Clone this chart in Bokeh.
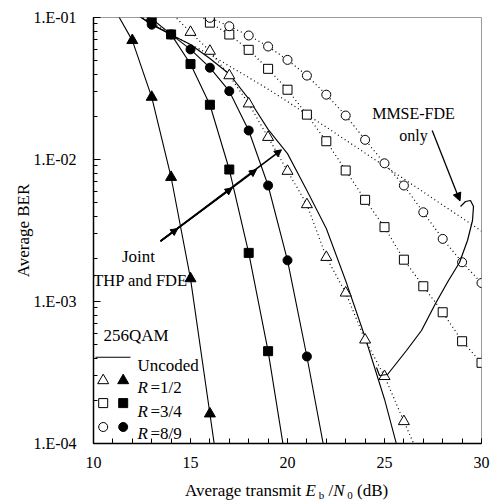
import math
from bokeh.plotting import figure
from bokeh.layouts import column
from bokeh.models import FixedTicker, Label, Arrow, NormalHead, Div
from bokeh.embed import file_html
from bokeh.resources import INLINE

# ---------------- data (Eb/N0 in dB, average BER) ----------------
# Joint THP and FDE (solid lines, filled markers)
snr_jt_r12 = [11, 12, 13, 14, 15, 16, 17]
ber_jt_r12 = [0.12, 0.069, 0.0275, 0.0075, 0.00145, 0.000162, 0.000018]
snr_jt_r34 = [12, 13, 14, 15, 16, 17, 18, 19, 20]
ber_jt_r34 = [0.115, 0.098, 0.076, 0.047, 0.0243, 0.0085, 0.0022, 0.000447, 0.000063]
snr_jt_r89 = [12, 13, 14, 15, 16, 17, 18, 19, 20, 21, 22]
ber_jt_r89 = [0.11, 0.089, 0.076, 0.0596, 0.0443, 0.0303, 0.016, 0.00656, 0.00195, 0.00041, 0.000076]
snr_jt_unc = [12, 13, 14, 15, 16, 17, 18, 19, 20, 21, 22, 23, 24, 25, 26]
ber_jt_unc = [0.11, 0.09, 0.0755, 0.0645, 0.0514, 0.040, 0.0267, 0.0163, 0.011, 0.00605,
              0.00327, 0.0014, 0.00056, 0.000205, 0.000063]

# MMSE-FDE only (dotted lines, open markers)
snr_mm_r12 = [14, 15, 16, 17, 18, 19, 20, 21, 22, 23, 24, 25, 26, 27]
ber_mm_r12 = [0.108, 0.0788, 0.058, 0.039, 0.0247, 0.01435, 0.00828, 0.00482, 0.00205,
              0.00115, 0.000537, 0.000297, 0.000143, 0.00007]
snr_mm_r34 = [15, 16, 17, 18, 19, 20, 21, 22, 23, 24, 25, 26, 27, 28, 29, 30]
ber_mm_r34 = [0.115, 0.092, 0.0759, 0.0592, 0.0435, 0.031, 0.0207, 0.01345, 0.00837, 0.0052,
              0.00334, 0.00197, 0.00128, 0.00084, 0.000525, 0.00037]
snr_mm_r89 = [15, 16, 17, 18, 19, 20, 21, 22, 23, 24, 25, 26, 27, 28, 29, 30]
ber_mm_r89 = [0.118, 0.0995, 0.0868, 0.0747, 0.0625, 0.0503, 0.039, 0.0286, 0.0204, 0.01376,
              0.0094, 0.00656, 0.00425, 0.00276, 0.00189, 0.00135]
snr_mm_unc = [12, 13, 14, 15, 16, 17, 18, 19, 20, 21, 22, 23, 24, 25, 26, 27, 28, 29, 30]
ber_mm_unc = [0.11, 0.092, 0.0759, 0.0645, 0.055, 0.0455, 0.0378, 0.0313, 0.0256, 0.0207,
              0.0169, 0.0137, 0.0111, 0.009, 0.0073, 0.0059, 0.00478, 0.00387, 0.00313]

x_ticks = [10, 15, 20, 25, 30]
y_ticks = [1e-4, 1e-3, 1e-2, 1e-1]
y_tick_labels = ["1.E-04", "1.E-03", "1.E-02", "1.E-01"]

# ---------------- figure ----------------
W, H = 499, 482
FL, FR, FT, FB = 93, 18, 17, 39   # frame borders in canvas px
p = figure(width=W, height=H, output_backend="svg", toolbar_location=None,
           x_range=(10, 30), y_range=(1e-4, 1e-1), y_axis_type="log",
           min_border_left=FL, min_border_right=FR, min_border_top=FT, min_border_bottom=FB)
p.background_fill_color = "white"
p.border_fill_color = "white"
p.outline_line_color = "#9a9a9a"
p.outline_line_width = 1
p.grid.visible = False

FONT = "Liberation Serif"

# coordinate helpers: canvas pixel -> data (for annotation placement only)
fw, fh = W - FL - FR, H - FT - FB
def X(px):
    return 10 + (px - FL) / fw * 20.0
def Y(py):
    return 10 ** (-1 - (py - FT) / fh * 3.0)

# axes
p.xaxis.ticker = FixedTicker(ticks=x_ticks, minor_ticks=list(range(10, 31)))
p.yaxis.ticker = FixedTicker(ticks=y_ticks,
                             minor_ticks=[m * 10 ** e for e in (-4, -3, -2) for m in range(1, 11)])
p.yaxis.major_label_overrides = {t: l for t, l in zip(y_ticks, y_tick_labels)}
for ax in (p.xaxis, p.yaxis):
    ax.axis_line_color = "black"
    ax.axis_line_width = 1.5
    ax.major_tick_out = 0
    ax.minor_tick_out = 0
    ax.major_tick_line_color = "black"
    ax.minor_tick_line_color = "black"
    ax.major_label_text_font = FONT
    ax.major_label_text_font_size = "16px"
    ax.major_label_text_color = "black"
p.yaxis.major_tick_in = 7
p.yaxis.minor_tick_in = 4
p.xaxis.major_tick_in = 5
p.xaxis.minor_tick_in = 5
p.yaxis.major_label_standoff = 17
p.xaxis.major_label_standoff = 13
p.yaxis.axis_label = "Average BER"
p.yaxis.axis_label_text_font = FONT
p.yaxis.axis_label_text_font_size = "17px"
p.yaxis.axis_label_text_font_style = "normal"
p.yaxis.axis_label_text_color = "black"
p.yaxis.axis_label_standoff = -3

# ---------------- series ----------------
def solid(x, y):
    p.line(x, y, line_color="black", line_width=1.1)

def dotted(x, y):
    p.line(x, y, line_color="black", line_width=1.2, line_dash="1 3")

solid(snr_jt_r12, ber_jt_r12)
solid(snr_jt_r34, ber_jt_r34)
solid(snr_jt_r89, ber_jt_r89)
solid(snr_jt_unc, ber_jt_unc)
dotted(snr_mm_r12, ber_mm_r12)
dotted(snr_mm_r34, ber_mm_r34)
dotted(snr_mm_r89, ber_mm_r89)
dotted(snr_mm_unc, ber_mm_unc)

TRI, SQ, CIR = 11, 9, 9
p.scatter(snr_mm_r12, ber_mm_r12, marker="triangle", size=TRI, fill_color="white", line_color="black", line_width=1)
p.scatter(snr_mm_r34, ber_mm_r34, marker="square", size=SQ, fill_color="white", line_color="black", line_width=1)
p.scatter(snr_mm_r89, ber_mm_r89, marker="circle", size=CIR, fill_color="white", line_color="black", line_width=1)
p.scatter(snr_jt_r12, ber_jt_r12, marker="triangle", size=TRI, fill_color="black", line_color="black")
p.scatter(snr_jt_r34, ber_jt_r34, marker="square", size=SQ, fill_color="black", line_color="black")
p.scatter(snr_jt_r89, ber_jt_r89, marker="circle", size=CIR, fill_color="black", line_color="black")

# ---------------- annotations ----------------
def label(px, py, text, size="17px", style="normal", align="left", baseline="alphabetic", angle=0):
    p.add_layout(Label(x=X(px), y=Y(py), text=text, text_font=FONT, text_font_size=size,
                       text_font_style=style, text_align=align, text_baseline=baseline,
                       text_color="black", angle=angle))

# arrow "Joint THP and FDE"
ax0, ay0 = 160, 240.7
for (ex, ey) in [(177.3, 228.0), (231.7, 187.4), (256.0, 169.1), (281.0, 149.3)]:
    p.add_layout(Arrow(x_start=X(ax0), y_start=Y(ay0), x_end=X(ex), y_end=Y(ey),
                       line_color="black", line_width=1.6,
                       end=NormalHead(size=7, fill_color="black", line_color="black")))
label(138, 255.5, "Joint", align="center")
label(140, 280, "THP and FDE", size="16.5px", align="center")

# arrow "MMSE-FDE only" and loop
p.add_layout(Arrow(x_start=X(431.7), y_start=Y(130), x_end=X(459.5), y_end=Y(200.5),
                   line_color="black", line_width=1.3,
                   end=NormalHead(size=8, fill_color="black", line_color="black")))
loop_px = [(376, 367), (379, 375), (387, 374), (406, 350), (421, 330), (435, 303), (448, 280),
           (459, 262), (467, 240), (472, 220), (473, 206), (470, 200), (465, 201), (460, 206)]
p.line([X(a) for a, b in loop_px], [Y(b) for a, b in loop_px], line_color="black", line_width=1.2)
label(413, 113, "MMSE-FDE", size="16px", align="center")
label(413, 135, "only", size="16px", align="center")

# legend
label(103, 334.5, "256QAM")
p.line([X(95), X(130)], [Y(356.7), Y(356.7)], line_color="black", line_width=1.1)
label(137, 365, "Uncoded")
rows = [("triangle", 380, "=1/2", 387), ("square", 402.6, "=3/4", 410.5), ("circle", 426.5, "=8/9", 433)]
for mk, cy, txt, bl in rows:
    sz = TRI if mk == "triangle" else SQ
    p.scatter([X(102.7)], [Y(cy)], marker=mk, size=sz, fill_color="white", line_color="black", line_width=1)
    p.scatter([X(122.7)], [Y(cy)], marker=mk, size=sz, fill_color="black", line_color="black")
    label(137, bl, "R", style="italic")
    label(150, bl, txt)

# x-axis title (mixed italic / subscript) below the figure
sub = "font-size:11px;position:relative;top:3px;"
xlabel = Div(
    text=("Average transmit <i>E</i><span style='" + sub + "'> b</span> /"
          "<i>N</i><span style='" + sub + "'> 0</span> (dB)"),
    width=W, height=22, margin=(0, 0, 0, 0),
    styles={"font-family": "'Liberation Serif'", "font-size": "17px", "line-height": "17px",
            "color": "black", "padding-left": "185px", "white-space": "nowrap"})

layout = column(p, xlabel, spacing=0)
open("out.html", "w").write(file_html(layout, INLINE))
